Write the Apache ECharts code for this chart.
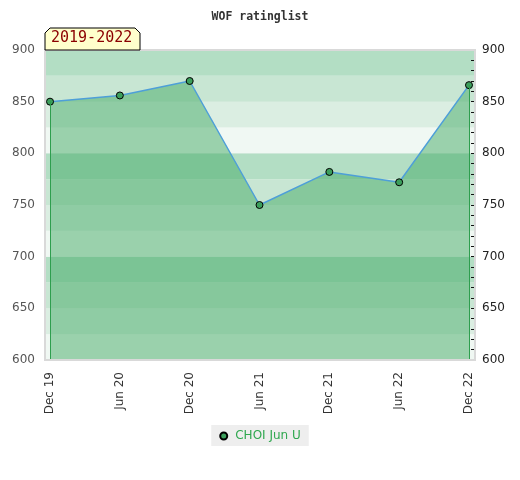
<!DOCTYPE html>
<html>
<head>
<meta charset="utf-8">
<script src="https://cdn.jsdelivr.net/npm/echarts@6/dist/echarts.min.js"></script>
<style>html,body{margin:0;padding:0;background:#fff}#c{width:520px;height:480px}</style>
</head>
<body>
<div id="c"></div>
<script>
const titleText = 'WOF ratinglist';
const periodLabel = '2019-2022';
const seriesName = 'CHOI Jun U';
const categories = ['Dec 19', 'Jun 20', 'Dec 20', 'Jun 21', 'Dec 21', 'Jun 22', 'Dec 22'];
const ratings = [850, 856, 870, 750, 782, 772, 866];
const yMin = 600, yMax = 900, yStep = 50, bandStep = 25;
const bandColors = ['#b3dec4', '#c8e6d3', '#dbeee2', '#f0f8f3']; // top-to-bottom in each 100 block

const bands = [];
for (let lo = yMin; lo < yMax; lo += bandStep) {
  const hi = lo + bandStep;
  const idx = ((yMax - hi) / bandStep) % 4;
  bands.push([{ yAxis: lo, itemStyle: { color: bandColors[idx], opacity: 1 } }, { yAxis: hi }]);
}

const chart = echarts.init(document.getElementById('c'));
chart.setOption({
  animation: false,
  title: {
    text: titleText, left: 'center', top: 6,
    textStyle: { fontFamily: 'DejaVu Sans Mono', fontWeight: 'bold', fontSize: 11.5, color: '#333' }
  },
  grid: { left: 45, right: 45, top: 50, bottom: 120, show: true, borderColor: '#d9d9d9', borderWidth: 2, backgroundColor: 'transparent', z: 10 },
  legend: {
    bottom: 34, left: 'center', backgroundColor: '#eeeeee', padding: [5, 8, 4, 8],
    itemWidth: 7, itemHeight: 7, itemGap: 8,
    textStyle: { color: '#2fa84f', fontFamily: 'DejaVu Sans', fontSize: 12, padding: [0, 0, 0, 3] },
    data: [{ name: seriesName, icon: 'circle' }]
  },
  xAxis: {
    type: 'value', min: -0.072, max: 6.086,
    axisLine: { show: false }, splitLine: { show: false },
    axisTick: { show: false },
    axisLabel: {
      customValues: categories.map((_, i) => i),
      formatter: v => categories[Math.round(v)],
      rotate: 90, margin: 12, color: '#333', fontSize: 12, fontFamily: 'DejaVu Sans'
    }
  },
  yAxis: [
    {
      type: 'value', min: yMin, max: yMax, interval: yStep, position: 'left',
      axisLine: { show: false }, axisTick: { show: false },
      splitLine: { show: true, lineStyle: { color: 'rgba(0,0,0,0.05)' } },
      axisLabel: { color: '#555', fontSize: 12, fontFamily: 'DejaVu Sans', margin: 10 }
    },
    {
      type: 'value', min: yMin, max: yMax, interval: yStep, position: 'right',
      axisLine: { show: false },
      axisTick: { show: true, inside: true, length: 4, lineStyle: { color: '#111' } },
      minorTick: { show: true, splitNumber: 5, length: 4, lineStyle: { color: '#111' } },
      splitLine: { show: false },
      axisLabel: { color: '#222', fontSize: 12, fontFamily: 'DejaVu Sans', margin: 7 }
    }
  ],
  graphic: [
    {
      type: 'polygon', z: 100,
      shape: { points: [[45, 50], [45, 33], [50, 28], [135, 28], [140, 33], [140, 50]] },
      style: { fill: '#ffffcc', stroke: '#000', lineWidth: 1 }
    },
    {
      type: 'text', z: 101, left: 51, top: 31,
      style: { text: periodLabel, fill: '#8b0000', font: '15px "DejaVu Sans Mono"' }
    }
  ],
  series: [
    {
      name: '_bands', type: 'line', data: [], z: 0, silent: true,
      markArea: { silent: true, z: 0, data: bands }
    },
    {
      name: seriesName, type: 'line', z: 3,
      data: ratings.map((v, i) => [i, v]),
      symbol: 'circle', symbolSize: 7,
      itemStyle: { color: '#3c9f5c', borderColor: '#000', borderWidth: 1 },
      lineStyle: { color: '#4e9fd8', width: 1.5 },
      areaStyle: { color: 'rgb(67,170,102)', opacity: 0.5, origin: 'start' },
      markLine: {
        silent: true, symbol: 'none', label: { show: false },
        lineStyle: { color: '#2e9e4e', width: 1, type: 'solid' },
        data: [
          [{ coord: [0, yMin] }, { coord: [0, ratings[0]] }],
          [{ coord: [ratings.length - 1, yMin] }, { coord: [ratings.length - 1, ratings[ratings.length - 1]] }]
        ]
      }
    }
  ]
});
</script>
</body>
</html>
